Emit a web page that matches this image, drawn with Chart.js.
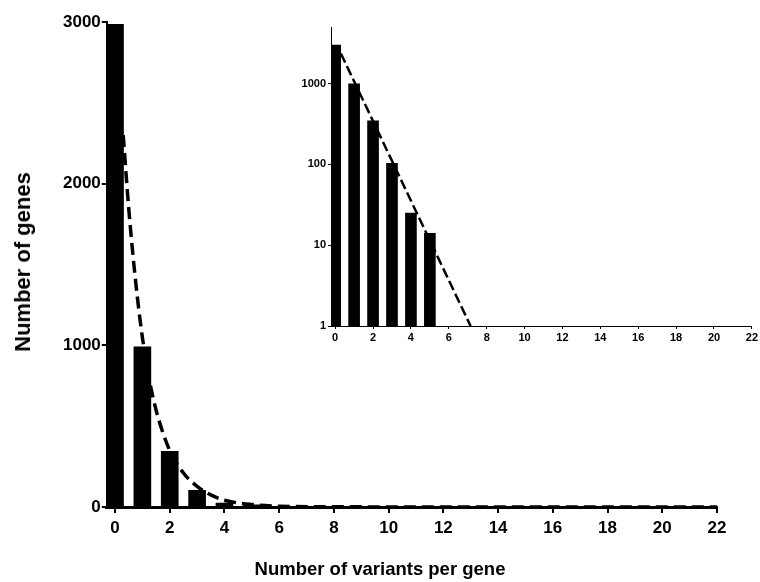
<!DOCTYPE html>
<html>
<head>
<meta charset="utf-8">
<script src="https://cdn.jsdelivr.net/npm/chart.js@4/dist/chart.umd.min.js"></script>
<style>
  html, body { margin: 0; padding: 0; background: #fff; }
  #wrap { position: relative; width: 760px; height: 582px; overflow: hidden; font-family: "Liberation Sans", Arial, sans-serif; }
  #main { position: absolute; left: 0; top: 0; }
  #inset { position: absolute; left: 290px; top: 10px; }
  .title { position: absolute; font-weight: bold; font-size: 18.5px; color: #000; white-space: nowrap; }
  #xtitle { left: 380px; top: 558px; transform: translateX(-50%); }
  #ytitle { left: 23px; top: 262px; font-size: 22px; transform: translate(-50%, -50%) rotate(-90deg); }
</style>
</head>
<body>
<div id="wrap">
  <canvas id="main" width="760" height="582"></canvas>
  <canvas id="inset" width="470" height="340"></canvas>
  <div class="title" id="xtitle">Number of variants per gene</div>
  <div class="title" id="ytitle">Number of genes</div>
</div>
<script>
// ---- data ----
const variants = [0, 1, 2, 3, 4, 5];
const genes = [2985, 990, 345, 103, 25, 14];

// fitted (dashed) curve
const fitX = [0.3, 0.5, 0.75, 1, 1.25, 1.5, 1.75, 2, 2.5, 3, 3.5, 4, 5, 6, 8, 22];
const fitY = [2300, 1850, 1400, 1050, 790, 600, 460, 350, 210, 128, 75, 42, 15, 5, 1, 0];

// fitted line in the inset (straight on log scale)
const insetFitX = [0.3, 7.15];
const insetFitY = [2350, 1];

// tick labels
const mainXTicks = [0, 2, 4, 6, 8, 10, 12, 14, 16, 18, 20, 22];
const mainYTicks = [0, 1000, 2000, 3000];
const insetXTicks = [0, 2, 4, 6, 8, 10, 12, 14, 16, 18, 20, 22];
const insetYTicks = [1, 10, 100, 1000];

const FONT = "'Liberation Sans', Arial, sans-serif";

function pts(xs, ys) { return xs.map((x, i) => ({ x: x, y: ys[i] })); }

// ---- main chart ----
new Chart(document.getElementById('main'), {
  type: 'bar',
  data: {
    datasets: [
      {
        type: 'line',
        data: pts(fitX, fitY),
        borderColor: '#000',
        borderWidth: 3.5,
        borderDash: [12, 6],
        pointRadius: 0,
        cubicInterpolationMode: 'monotone',
        fill: false,
        order: 0
      },
      {
        type: 'bar',
        data: pts(variants, genes),
        backgroundColor: '#000',
        borderWidth: 0,
        barThickness: 17,
        order: 1
      }
    ]
  },
  options: {
    responsive: false,
    animation: false,
    events: [],
    layout: { padding: { left: 0, right: 43, top: 22, bottom: 0 } },
    plugins: { legend: { display: false }, tooltip: { enabled: false } },
    scales: {
      x: {
        type: 'linear',
        offset: false,
        min: -0.3,
        max: 22,
        afterBuildTicks: s => { s.ticks = mainXTicks.map(v => ({ value: v })); },
        afterFit: s => { s.height = 75; },
        ticks: { color: '#000', font: { family: FONT, size: 17, weight: 'bold' }, padding: 5, maxRotation: 0, autoSkip: false, callback: v => String(v) },
        grid: { display: true, offset: false, drawOnChartArea: false, drawTicks: true, tickLength: 6, color: '#000', lineWidth: 2 },
        border: { display: true, color: '#000', width: 3 }
      },
      y: {
        type: 'linear',
        min: 0,
        max: 3000,
        afterBuildTicks: s => { s.ticks = mainYTicks.map(v => ({ value: v })); },
        afterFit: s => { s.width = 106.8; },
        ticks: { color: '#000', font: { family: FONT, size: 17, weight: 'bold' }, padding: 1, callback: v => String(v) },
        grid: { display: true, drawOnChartArea: false, drawTicks: true, tickLength: 5, color: '#000', lineWidth: 2 },
        border: { display: true, color: '#000', width: 2 }
      }
    }
  }
});

// ---- inset chart ----
new Chart(document.getElementById('inset'), {
  type: 'bar',
  data: {
    datasets: [
      {
        type: 'line',
        data: pts(insetFitX, insetFitY),
        borderColor: '#000',
        borderWidth: 2.5,
        borderDash: [10, 4],
        pointRadius: 0,
        fill: false,
        order: 0
      },
      {
        type: 'bar',
        data: pts(variants, genes),
        backgroundColor: '#000',
        borderWidth: 0,
        barThickness: 11,
        order: 1
      }
    ]
  },
  options: {
    responsive: false,
    animation: false,
    events: [],
    layout: { padding: { left: 0, right: 8, top: 17, bottom: 0 } },
    plugins: { legend: { display: false }, tooltip: { enabled: false } },
    scales: {
      x: {
        type: 'linear',
        offset: false,
        min: -0.22,
        max: 22,
        afterBuildTicks: s => { s.ticks = insetXTicks.map(v => ({ value: v })); },
        afterFit: s => { s.height = 24; },
        ticks: { color: '#000', font: { family: FONT, size: 11, weight: 'bold' }, padding: 2, maxRotation: 0, autoSkip: false, callback: v => String(v) },
        grid: { display: true, offset: false, drawOnChartArea: false, drawTicks: true, tickLength: 3, color: '#000', lineWidth: 1 },
        border: { display: true, color: '#000', width: 1 }
      },
      y: {
        type: 'logarithmic',
        min: 1,
        max: 5000,
        afterBuildTicks: s => { s.ticks = insetYTicks.map(v => ({ value: v })); },
        afterFit: s => { s.width = 41; },
        ticks: { color: '#000', font: { family: FONT, size: 11, weight: 'bold' }, padding: 2, callback: v => String(v) },
        grid: { display: true, drawOnChartArea: false, drawTicks: true, tickLength: 3, color: '#000', lineWidth: 1 },
        border: { display: true, color: '#000', width: 1 }
      }
    }
  }
});
</script>
</body>
</html>
